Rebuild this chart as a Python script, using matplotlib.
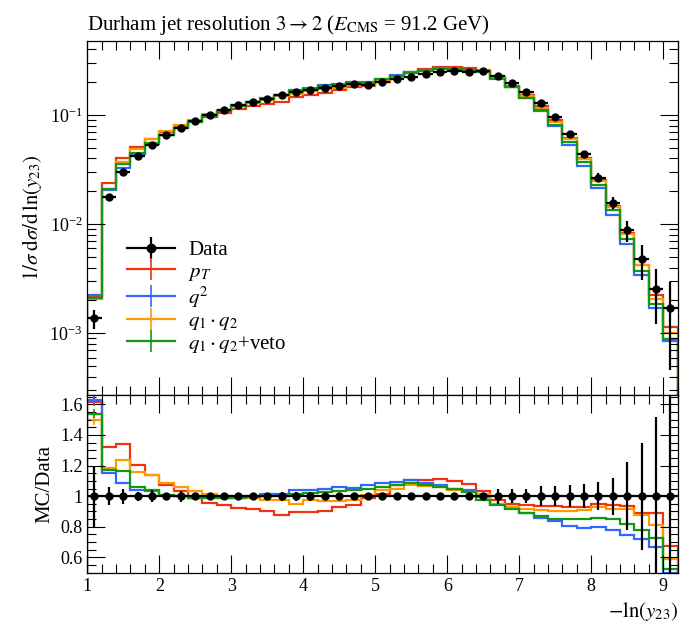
import matplotlib
matplotlib.use("Agg")
import matplotlib.pyplot as plt
import numpy as np
from matplotlib.lines import Line2D
from matplotlib.legend_handler import HandlerTuple
from matplotlib.ticker import MultipleLocator, LogLocator, NullFormatter

plt.rcParams['font.family'] = ['Liberation Serif', 'DejaVu Serif']
plt.rcParams['mathtext.fontset'] = 'stix'

# bins of -ln(y23)
edges = np.round(np.arange(1.0, 9.21, 0.2), 2)
centers = 0.5 * (edges[:-1] + edges[1:])

data = [0.00137, 0.0179, 0.0303, 0.0425, 0.0531, 0.0652, 0.0755, 0.0881, 0.100, 0.111,
        0.123, 0.132, 0.141, 0.152, 0.163, 0.169, 0.178, 0.184, 0.191, 0.187,
        0.1995, 0.212, 0.224, 0.237, 0.249, 0.253, 0.249, 0.252, 0.229, 0.195,
        0.163, 0.128, 0.0953, 0.0665, 0.0436, 0.0267, 0.0157, 0.00885, 0.00477, 0.00253,
        0.00170]
data_relerr = [0.20, 0.06, 0.05, 0.03, 0.04, 0.02, 0.035, 0.015, 0.015, 0.015,
               0.015, 0.015, 0.015, 0.03, 0.03, 0.03, 0.015, 0.015, 0.015, 0.015,
               0.015, 0.015, 0.015, 0.015, 0.015, 0.015, 0.015, 0.015, 0.05, 0.045,
               0.046, 0.066, 0.066, 0.073, 0.08, 0.092, 0.12, 0.22, 0.35, 0.52,
               0.73]

# MC / Data ratios
ratio_pt = [1.618, 1.319, 1.339, 1.203, 1.138, 1.072, 1.035, 0.991, 0.958, 0.941,
            0.924, 0.913, 0.904, 0.875, 0.898, 0.898, 0.900, 0.926, 0.941, 0.991,
            1.013, 1.072, 1.105, 1.105, 1.111, 1.100, 1.078, 1.035, 0.974, 0.952,
            0.941, 0.937, 0.935, 0.930, 0.926, 0.948, 0.941, 0.937, 0.887, 0.893,
            0.674]
ratio_q2 = [1.630, 1.149, 1.085, 1.041, 1.031, 1.009, 1.002, 0.990, 0.990, 0.990,
            0.995, 1.000, 1.013, 1.011, 1.041, 1.041, 1.048, 1.057, 1.052, 1.072,
            1.083, 1.094, 1.105, 1.083, 1.072, 1.048, 1.041, 0.996, 0.952, 0.930,
            0.887, 0.858, 0.837, 0.804, 0.789, 0.800, 0.777, 0.749, 0.723, 0.668,
            0.500]
ratio_q1q2 = [1.498, 1.182, 1.236, 1.159, 1.138, 1.085, 1.063, 1.031, 1.013, 1.000,
              0.991, 0.985, 0.974, 0.974, 0.948, 0.978, 0.967, 0.967, 0.978, 1.006,
              1.039, 1.050, 1.076, 1.068, 1.061, 1.039, 1.028, 1.017, 0.952, 0.930,
              0.919, 0.908, 0.904, 0.904, 0.908, 0.926, 0.919, 0.913, 0.880, 0.810,
              0.590]
ratio_veto = [1.538, 1.170, 1.166, 1.063, 1.041, 1.009, 1.002, 0.985, 0.985, 0.985,
              0.989, 0.995, 1.000, 1.000, 1.017, 1.022, 1.028, 1.033, 1.039, 1.050,
              1.061, 1.072, 1.087, 1.076, 1.061, 1.044, 1.030, 0.974, 0.941, 0.919,
              0.887, 0.869, 0.854, 0.854, 0.850, 0.858, 0.854, 0.821, 0.777, 0.729,
              0.525]
mc_first_err = [0.03, 0.03, 0.03, 0.03]

labels = ['$p_T$', '$q^2$', r'$q_1 \cdot q_2$', r'$q_1 \cdot q_2$+veto']
colors = ['#EE3311', '#3366FF', '#FF9900', '#119911']
ratios = [ratio_pt, ratio_q2, ratio_q1q2, ratio_veto]

data = np.array(data)
data_err = data * np.array(data_relerr)

fig = plt.figure(figsize=(7.0, 6.32), dpi=100)
ax = fig.add_axes([0.1247, 0.375, 0.8434, 0.560])
rax = fig.add_axes([0.1247, 0.0938, 0.8434, 0.281], sharex=ax)

for r, c in zip(ratios, colors):
    ax.stairs(data * np.array(r), edges, color=c, lw=1.6)
ax.errorbar(centers, data, xerr=0.1, yerr=data_err, fmt='o', color='black',
            ms=5, lw=1.6, capsize=0, zorder=5)

ax.set_yscale('log')
ax.set_ylim(2.72e-4, 0.476)
ax.set_xlim(1.0, 9.2)
ax.set_ylabel(r'$1/\sigma\;\mathrm{d}\sigma/\mathrm{d}\,\ln(y_{23})$', fontsize=15)
ax.set_title(r'Durham jet resolution $3 \rightarrow 2$ ($E_{\mathrm{CMS}}$ = 91.2 GeV)',
             loc='left', fontsize=15, pad=8)
ax.yaxis.set_major_locator(LogLocator(base=10))
ax.yaxis.set_minor_locator(LogLocator(base=10, subs=np.arange(2, 10)))
ax.yaxis.set_minor_formatter(NullFormatter())
ax.tick_params(labelbottom=False)

for r, c in zip(ratios, colors):
    rax.stairs(r, edges, color=c, lw=1.6)
for r, c, e in zip(ratios, colors, mc_first_err):
    rax.errorbar(centers[0], r[0], yerr=e, xerr=0.05, fmt='none', color=c, lw=1.2)
rax.errorbar(centers, np.ones(len(centers)), xerr=0.1, yerr=data_relerr, fmt='o',
             color='black', ms=5, lw=1.6, capsize=0, zorder=5)
rax.set_ylim(0.5, 1.66)
rax.set_ylabel('MC/Data', fontsize=15)
rax.set_xlabel(r'$-\ln(y_{23})$', fontsize=15, loc='right')
rax.yaxis.set_major_locator(MultipleLocator(0.2))
rax.yaxis.set_minor_locator(MultipleLocator(0.05))
rax.set_yticks([0.6, 0.8, 1.0, 1.2, 1.4, 1.6])
rax.set_yticklabels(['0.6', '0.8', '1', '1.2', '1.4', '1.6'])
rax.xaxis.set_major_locator(MultipleLocator(1))
rax.xaxis.set_minor_locator(MultipleLocator(0.2))

for a in (ax, rax):
    a.tick_params(which='both', direction='in', top=True, right=True, labelsize=13)
    a.tick_params(which='major', length=13, width=0.8)
    a.tick_params(which='minor', length=6.5, width=0.8)
    for s in a.spines.values():
        s.set_linewidth(0.9)

handles = [(Line2D([], [], color='black', lw=1.6),
            Line2D([], [], color='black', marker='o', ms=6, ls='none'),
            Line2D([], [], color='black', marker='|', ms=16, mew=1.6, ls='none'))]
for c in colors:
    handles.append((Line2D([], [], color=c, lw=1.6),
                    Line2D([], [], color=c, marker='|', ms=16, mew=1.2, ls='none')))
ax.legend(handles, ['Data'] + labels, handler_map={tuple: HandlerTuple(ndivide=1, pad=0)},
          loc='upper left', bbox_to_anchor=(0.043, 0.477), frameon=False, fontsize=15,
          handlelength=2.3, labelspacing=0.08, handletextpad=0.62, borderaxespad=0.3)

fig.savefig('out.png', dpi=100)
